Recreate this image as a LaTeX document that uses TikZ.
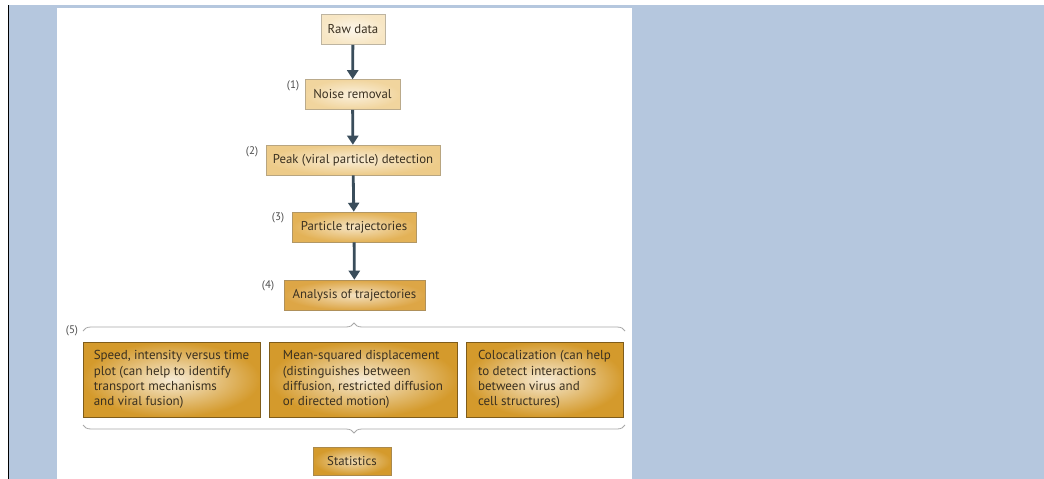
\documentclass[tikz,border=0pt]{standalone}
\usepackage{fontspec}
\setmainfont{PT Sans}
\usetikzlibrary{arrows.meta,decorations.pathreplacing}
\definecolor{bgblue}{HTML}{B5C7DE}
\definecolor{arrowc}{HTML}{3A4D5B}
\definecolor{bracec}{HTML}{A8A8A8}
\definecolor{c1}{HTML}{F7E6C4}
\definecolor{c2}{HTML}{F1D59E}
\definecolor{c3}{HTML}{EDCB89}
\definecolor{c4}{HTML}{E3B257}
\definecolor{c5}{HTML}{DDA646}
\definecolor{c6}{HTML}{D49A2C}
\definecolor{txt}{HTML}{3A3020}
\tikzset{
  stage/.style={rectangle, draw=#1!70!black!80, line width=0.6pt, inner sep=0pt,
    minimum height=30pt, font=\fontsize{12.8}{15}\selectfont, text=txt,
    shading=radial, inner color=#1!35!white, outer color=#1},
  bigbox/.style={rectangle, draw=c6!60!black, line width=0.6pt, inner sep=0pt,
    minimum height=75pt, text=txt, font=\fontsize{13}{15.3}\selectfont,
    shading=radial, inner color=c6!20!white, outer color=c6, align=left},
  flow/.style={arrowc, line width=2.8pt, -{Triangle[width=11pt,length=9pt]}},
  num/.style={font=\fontsize{11}{13}\selectfont, text=black!70},
  curly/.style={bracec, line width=0.8pt, decorate, decoration={brace, amplitude=8pt}}
}
\begin{document}
\begin{tikzpicture}[x=1pt,y=-1pt]
\useasboundingbox (0,0) rectangle (1044,479);
\fill[white] (0,0) rectangle (1044,479);
\fill[bgblue] (8,5) rectangle (1044,479);
\draw[black, line width=1.4pt] (8.5,5) -- (8.5,479);
\fill[white] (57,7.5) rectangle (632,479);

\node[stage=c1, minimum width=64pt] (raw) at (353,29.5) {Raw data};
\node[stage=c2, minimum width=95pt] (noise) at (352.5,94.5) {Noise removal};
\node[stage=c3, minimum width=174pt] (peak) at (353,160) {Peak (viral particle) detection};
\node[stage=c4, minimum width=124pt] (traj) at (354,227) {Particle trajectories};
\node[stage=c5, minimum width=141pt] (anal) at (354.5,295) {Analysis of trajectories};

\node[num] (n1) at (293,86) {(1)};
\node[num] (n2) at (252,152) {(2)};
\node[num] (n3) at (278,218) {(3)};
\node[num] (n4) at (268,286) {(4)};
\node[num] (n5) at (72,331) {(5)};

\draw[flow] (raw) -- (noise);
\draw[flow] (noise) -- (peak);
\draw[flow] (peak) -- (traj);
\draw[flow] (traj) -- (anal);

\node[bigbox, minimum width=177pt] (b1) at (171.5,379.5) {Speed, intensity versus time\\plot (can help to identify\\transport mechanisms\\and viral fusion)};
\node[bigbox, minimum width=188pt] (b2) at (363,379.5) {Mean-squared displacement\\(distinguishes between\\diffusion, restricted diffusion\\or directed motion)};
\node[bigbox, minimum width=157pt] (b3) at (544.5,379.5) {Colocalization (can help\\to detect interactions\\between virus and\\cell structures)};

\coordinate (tl) at (83,331);
\coordinate (tr) at (625,331);
\coordinate (bl) at (83,425);
\coordinate (br) at (625,425);
\draw[curly] (tl) -- (tr);
\draw[curly] (br) -- (bl);

\node[stage=c6, minimum width=78pt, minimum height=28pt] (stat) at (352,461) {Statistics};
\end{tikzpicture}
\end{document}
